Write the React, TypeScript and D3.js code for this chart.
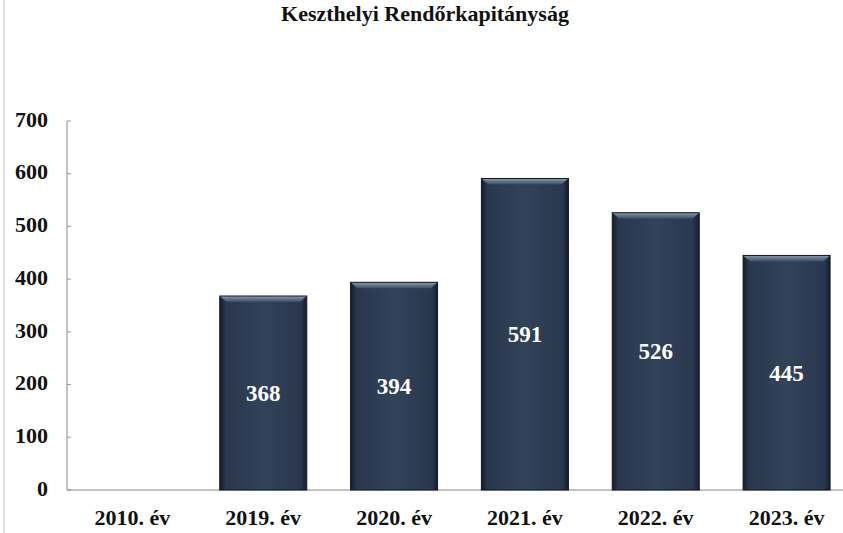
import React from "react";
import * as d3 from "d3";

const title = "Keszthelyi Rendőrkapitányság";
const categories = ["2010. év", "2019. év", "2020. év", "2021. év", "2022. év", "2023. év"];
const values: (number | null)[] = [null, 368, 394, 591, 526, 445];
const yTicks = [0, 100, 200, 300, 400, 500, 600, 700];

const W = 843;
const H = 533;
const margin = { left: 67, right: -9, top: 121, bottom: 43 };

export default function App() {
  const x = d3
    .scaleBand<string>()
    .domain(categories)
    .range([margin.left, W - margin.right])
    .paddingInner(0.335)
    .paddingOuter(0.1675);
  const y = d3.scaleLinear().domain([0, 700]).range([H - margin.bottom, margin.top]);
  const font = "'Liberation Serif', 'Times New Roman', 'DejaVu Serif', serif";
  const bw = x.bandwidth();

  return (
    <svg
      width={W}
      height={H}
      style={{ position: "absolute", left: 0, top: 0, background: "#fff", fontFamily: font }}
    >
      <defs>
        <linearGradient id="barH" x1="0" x2="1" y1="0" y2="0">
          <stop offset="0" stopColor="#151d2b" />
          <stop offset="0.07" stopColor="#2a384e" />
          <stop offset="0.5" stopColor="#324259" />
          <stop offset="0.93" stopColor="#2a384e" />
          <stop offset="1" stopColor="#151d2b" />
        </linearGradient>
        <linearGradient id="barTop" x1="0" x2="0" y1="0" y2="1">
          <stop offset="0" stopColor="#8b9ab0" />
          <stop offset="1" stopColor="#3a4b63" />
        </linearGradient>
      </defs>
      <line x1={4} x2={4} y1={0} y2={H} stroke="#dcdcdc" strokeWidth={1.5} />
      <text x={425} y={21} textAnchor="middle" fontSize={22} fontWeight="bold" fill="#111">
        {title}
      </text>
      {/* y axis */}
      <line
        x1={margin.left}
        x2={margin.left}
        y1={y(700)}
        y2={y(0)}
        stroke="#888"
        strokeWidth={1}
      />
      {yTicks.map((t) => (
        <g key={t}>
          <line x1={margin.left} x2={margin.left + 4} y1={y(t)} y2={y(t)} stroke="#999" />
          <text
            x={48}
            y={y(t) - 2}
            dy="0.35em"
            textAnchor="end"
            fontSize={22}
            fontWeight="bold"
            fill="#111"
          >
            {t}
          </text>
        </g>
      ))}
      {/* baseline */}
      <line x1={margin.left} x2={W} y1={y(0)} y2={y(0)} stroke="#888" strokeWidth={1} />
      {categories.map((c, i) => {
        const v = values[i];
        const bx = x(c)!;
        return (
          <g key={c}>
            {v != null && (
              <g>
                <rect x={bx} y={y(v)} width={bw} height={y(0) - y(v)} fill="url(#barH)" />
                <path
                  d={`M${bx},${y(v)} L${bx + bw},${y(v)} L${bx + bw - 7},${y(v) + 6} L${bx + 7},${y(v) + 6} Z`}
                  fill="url(#barTop)"
                />
                <rect
                  x={bx}
                  y={y(v)}
                  width={bw}
                  height={y(0) - y(v)}
                  fill="none"
                  stroke="#111824"
                  strokeWidth={1}
                />
                <text
                  x={bx + bw / 2}
                  y={(y(v) + y(0)) / 2}
                  dy="0.35em"
                  textAnchor="middle"
                  fontSize={23}
                  fontWeight="bold"
                  fill="#fff"
                >
                  {v}
                </text>
              </g>
            )}
            <text
              x={bx + bw / 2}
              y={525}
              textAnchor="middle"
              fontSize={22}
              fontWeight="bold"
              fill="#111"
            >
              {c}
            </text>
          </g>
        );
      })}
    </svg>
  );
}
